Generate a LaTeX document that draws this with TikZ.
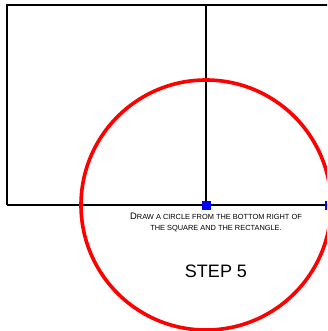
\documentclass[tikz,border=0pt]{standalone}
\usepackage{fontspec}
\setmainfont{Liberation Sans}
\begin{document}
\begin{tikzpicture}[x=1pt,y=-1pt,
  edge/.style={draw=black,line width=2pt},
  ring/.style={draw=red,line width=3.6pt},
  grip/.style={fill=blue,draw=none,minimum size=9pt,inner sep=0pt,outer sep=0pt},
  note/.style={align=center,inner sep=0pt,font=\fontsize{7.4pt}{11pt}\selectfont},
  title/.style={inner sep=0pt,font=\fontsize{18pt}{18pt}\selectfont}]
\useasboundingbox (0,0) rectangle (327,331);
\begin{scope}
\clip (0,0) rectangle (327,331);
\coordinate (tl) at (7,5);
\coordinate (bl) at (7,205);
\coordinate (tm) at (206,5);
\coordinate (tr) at (340,5);
\coordinate (br) at (340,205);
\coordinate (c) at (206,205);
\draw[edge] (bl) -- (tl) -- (tr);
\draw[edge] (bl) -- (br);
\draw[edge] (tm) -- (c);
\draw[ring] (c) circle[radius=125];
\node[grip] (g1) at (c) {};
\node[grip] (g2) at (329.5,205) {};
\end{scope}
\node[note] (n1) at (216,222) {{\fontsize{9.4pt}{11pt}\selectfont D}RAW A CIRCLE FROM THE BOTTOM RIGHT OF\\THE SQUARE AND THE RECTANGLE.};
\node[title] (s5) at (216,271) {STEP 5};
\end{tikzpicture}
\end{document}
